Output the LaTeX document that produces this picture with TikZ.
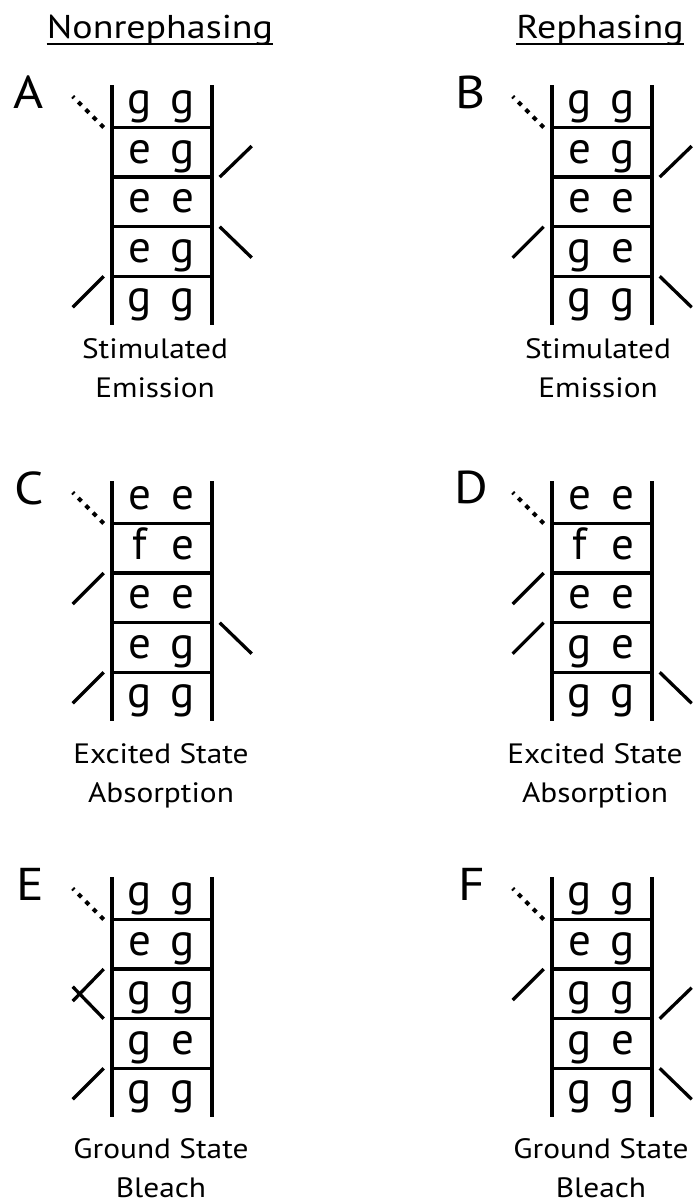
\documentclass[tikz,border=0pt]{standalone}
\usepackage{fontspec}
\setmainfont{PT Sans}
\newfontfamily\widesans[FakeStretch=1.12]{PT Sans}
\newfontfamily\titlesans[FakeStretch=1.15]{PT Sans}
\begin{document}
\begin{tikzpicture}[x=1pt,y=-1pt,
  rail/.style={line width=4pt},
  rung/.style={line width=3.5pt},
  pulse/.style={line width=3.3pt},
  signal/.style={line width=4pt, dash pattern=on 4.5pt off 6pt},
  state/.style={font=\fontsize{45}{45}\selectfont, inner sep=0pt, anchor=base},
  panel/.style={font=\widesans\fontsize{46}{46}\selectfont, inner sep=0pt, anchor=base},
  caption/.style={font=\widesans\fontsize{28}{39}\selectfont, inner sep=0pt, anchor=base},
  heading/.style={font=\titlesans\fontsize{33}{33}\selectfont, inner sep=0pt, anchor=base}]
\useasboundingbox (0,0) rectangle (695,1203);

% double-sided Feynman ladder: id, centre x, top y, rows top to bottom
\newcommand\ladder[4]{%
  \begin{scope}[shift={(#2,#3)}]
    \draw[rail] (-50,0) -- (-50,240);
    \draw[rail] (50,0) -- (50,240);
    \foreach \k/\yy in {1/42.5,2/92.1,3/141.7,4/191.3}{
      \draw[rung] (-50,\yy) -- (50,\yy);
      \coordinate (#1-l\k) at (-58,\yy);
      \coordinate (#1-r\k) at (58,\yy);
    }
    \foreach \a/\b [count=\k] in {#4}{
      \pgfmathsetmacro\yb{28.5+49.6*(\k-1)}
      \node[state] (#1-a\k) at (-22,\yb) {\a};
      \node[state] (#1-b\k) at (21,\yb) {\b};
    }
  \end{scope}}

% two-line caption under a ladder: id, centre x, first baseline, lines
\newcommand\ladcaption[5]{%
  \node[caption] (#1-top) at (#2,#3) {#4};
  \node[caption] (#1-bot) at (#2,#3+39) {#5};}

% column headings
\node[heading] (nonreph) at (160,38) {Nonrephasing};
\draw[line width=2pt] ([yshift=1.5pt]nonreph.south west) -- ([yshift=1.5pt]nonreph.south east);
\node[heading] (reph) at (600,38) {Rephasing};
\draw[line width=2pt] ([yshift=1.5pt]reph.south west) -- ([yshift=1.5pt]reph.south east);

% panel letters
\node[panel] (labA) at (29,108) {A};
\node[panel] (labB) at (471,108) {B};
\node[panel] (labC) at (29,504) {C};
\node[panel] (labD) at (471,503) {D};
\node[panel] (labE) at (30,900) {E};
\node[panel] (labF) at (472,900) {F};

% ladders
\ladder{A}{161.7}{85}{g/g,e/g,e/e,e/g,g/g}
\ladder{B}{601.7}{85}{g/g,e/g,e/e,g/e,g/g}
\ladder{C}{161.7}{481}{e/e,f/e,e/e,e/g,g/g}
\ladder{D}{601.7}{481}{e/e,f/e,e/e,g/e,g/g}
\ladder{E}{161.7}{877}{g/g,e/g,g/g,g/e,g/g}
\ladder{F}{601.7}{877}{g/g,e/g,g/g,g/e,g/g}

% field interactions
\draw[signal] (A-l1) -- ++(-31,-31);
\draw[pulse] (A-r2) -- ++(32,-31);
\draw[pulse] (A-r3) -- ++(32,31);
\draw[pulse] (A-l4) -- ++(-31,31);

\draw[signal] (B-l1) -- ++(-31,-31);
\draw[pulse] (B-r2) -- ++(32,-31);
\draw[pulse] (B-l3) -- ++(-31,31);
\draw[pulse] (B-r4) -- ++(32,31);

\draw[signal] (C-l1) -- ++(-31,-31);
\draw[pulse] (C-l2) -- ++(-31,31);
\draw[pulse] (C-r3) -- ++(32,31);
\draw[pulse] (C-l4) -- ++(-31,31);

\draw[signal] (D-l1) -- ++(-31,-31);
\draw[pulse] (D-l2) -- ++(-31,31);
\draw[pulse] (D-l3) -- ++(-31,31);
\draw[pulse] (D-r4) -- ++(32,31);

\draw[signal] (E-l1) -- ++(-31,-31);
\draw[pulse] (E-l2) -- ++(-31,32);
\draw[pulse] (E-l3) -- ++(-31,-32);
\draw[pulse] (E-l4) -- ++(-31,31);

\draw[signal] (F-l1) -- ++(-31,-31);
\draw[pulse] (F-l2) -- ++(-31,31);
\draw[pulse] (F-r3) -- ++(32,-31);
\draw[pulse] (F-r4) -- ++(32,31);

% captions
\ladcaption{capA}{155}{358}{Stimulated}{Emission}
\ladcaption{capB}{598}{358}{Stimulated}{Emission}
\ladcaption{capC}{161}{763}{Excited State}{Absorption}
\ladcaption{capD}{595}{763}{Excited State}{Absorption}
\ladcaption{capE}{161}{1158}{Ground State}{Bleach}
\ladcaption{capF}{601}{1158}{Ground State}{Bleach}
\end{tikzpicture}
\end{document}
